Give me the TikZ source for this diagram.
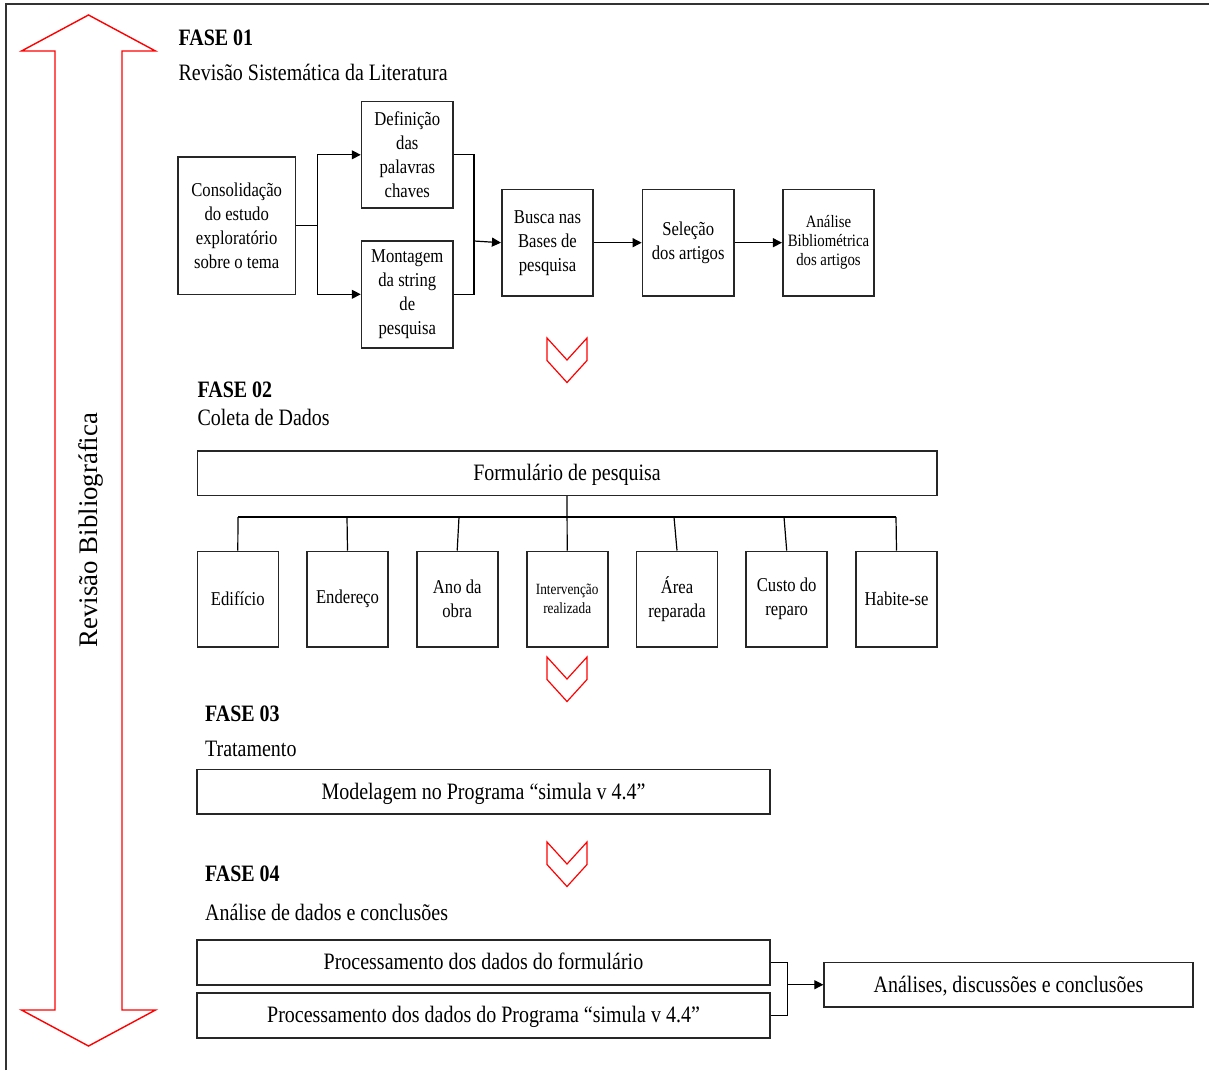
\documentclass[tikz,border=0pt]{standalone}
\usepackage{fontspec}
\setmainfont{Liberation Serif}[FakeStretch=0.85]
\newfontfamily\vertfont{Liberation Serif}
\usetikzlibrary{arrows.meta}

\tikzset{
  box/.style={draw=black!85, line width=1.6pt, align=center, inner sep=0pt},
  bigtext/.style={font=\fontsize{23.5}{27}\selectfont},
  midtext/.style={font=\fontsize{19.6}{24}\selectfont},
  widebox/.style={box, bigtext, text height=16.5pt, text depth=1.5pt},
  smallbox/.style={box, midtext, minimum width=81, minimum height=95.4},
  stepbox/.style={box, midtext, minimum width=91.5, minimum height=106.8},
  phase/.style={anchor=base west, inner sep=0pt, font=\fontsize{23.5}{27}\selectfont\bfseries},
  phasetitle/.style={anchor=base west, inner sep=0pt, bigtext},
  chevron/.style={red, line width=1.2pt}
}

\begin{document}
\begin{tikzpicture}[x=1pt, y=-1pt, line width=1.2pt, >={Triangle[length=9pt,width=9pt]}]
\useasboundingbox (0,0) rectangle (1209,1070);
\draw[black!80, line width=1.6pt] (6,1070) -- (6,4) -- (1209,4);

\draw[red, line width=1.4pt] (88.5,15) -- (155.5,51) -- (122,51) -- (122,1010) -- (155.5,1010) -- (88.5,1046)
  -- (21.5,1010) -- (55,1010) -- (55,51) -- (21.5,51) -- cycle;
\node[rotate=90, anchor=base, inner sep=0pt, font=\vertfont\fontsize{26.8}{30}\selectfont] (rev) at (97.5,530) {Revisão Bibliográfica};

% FASE 01
\node[phase] (f1) at (178,46) {FASE 01};
\node[phasetitle] (f1t) at (178,81) {Revisão Sistemática da Literatura};
\node[box, midtext, minimum width=117.3, minimum height=137.7] (cons) at (236.7,225.8) {Consolidação\\do estudo\\exploratório\\sobre o tema};
\node[stepbox] (def) at (407.3,154.8) {Definição\\das\\palavras\\chaves};
\node[stepbox] (mont) at (407.3,294.3) {Montagem\\da string\\de\\pesquisa};
\node[stepbox] (busca) at (547.5,242.7) {Busca nas\\Bases de\\pesquisa};
\node[stepbox] (sel) at (688.2,242.7) {Seleção\\dos artigos};
\node[stepbox, font=\fontsize{17.4}{19}\selectfont] (bib) at (828.5,242.7) {Análise\\Bibliométrica\\dos artigos};
\draw (cons.east) -- ++(21,0) coordinate (s1);
\draw[->] (s1) |- (def.west);
\draw[->] (s1) |- (mont.west);
\coordinate (j1) at (474,241);
\draw (def.east) -| (j1);
\draw (mont.east) -| (j1);
\draw[->] (j1) -- (busca.west);
\draw[->] (busca) -- (sel);
\draw[->] (sel) -- (bib);

\foreach \y in {338,657,842}
  \draw[chevron] (547,\y) -- ++(20,22) -- ++(20,-22) -- ++(0,22.5) -- ++(-20,22) -- ++(-20,-22) -- cycle;

% FASE 02
\node[phase] (f2) at (197,397) {FASE 02};
\node[phasetitle] (f2t) at (197,425) {Coleta de Dados};
\node[widebox, minimum width=739.4, minimum height=44.3] (form) at (567,473.2) {Formulário de pesquisa};
\node[smallbox] (edif) at (237.8,599) {Edifício};
\node[smallbox] (ender) at (347.5,599) {Endereço};
\node[smallbox] (ano) at (457.2,599) {Ano da\\obra};
\node[smallbox, font=\fontsize{15.6}{19}\selectfont] (interv) at (567.2,599) {Intervenção\\realizada};
\node[smallbox] (area) at (677,599) {Área\\reparada};
\node[smallbox] (custo) at (786.7,599) {Custo do\\reparo};
\node[smallbox] (hab) at (896.5,599) {Habite-se};
\foreach \n/\x in {edif/238, ender/347, ano/459, area/674, custo/784, hab/896}
  \draw (\x,517) coordinate (t\n) -- (\n.north);
\draw (tedif) -- (thab);
\draw (form.south) -- (interv.north);

% FASE 03
\node[phase] (f3) at (204.5,721) {FASE 03};
\node[phasetitle] (f3t) at (204.5,756) {Tratamento};
\node[widebox, minimum width=573, minimum height=44.7] (model) at (483.5,791.7) {Modelagem no Programa “simula v 4.4”};

% FASE 04
\node[phase] (f4) at (204.5,881) {FASE 04};
\node[phasetitle] (f4t) at (204.5,920) {Análise de dados e conclusões};
\node[widebox, minimum width=573, minimum height=45] (proc1) at (483.5,962.2) {Processamento dos dados do formulário};
\node[widebox, minimum width=573, minimum height=45] (proc2) at (483.5,1015.2) {Processamento dos dados do Programa “simula v 4.4”};
\node[widebox, minimum width=368.7, minimum height=44.7] (concl) at (1008.5,984.7) {Análises, discussões e conclusões};
\coordinate (j4) at (787.7,984.7);
\draw (proc1.east) -| (j4);
\draw (proc2.east) -| (j4);
\draw[->] (j4) -- (concl.west);
\end{tikzpicture}
\end{document}
